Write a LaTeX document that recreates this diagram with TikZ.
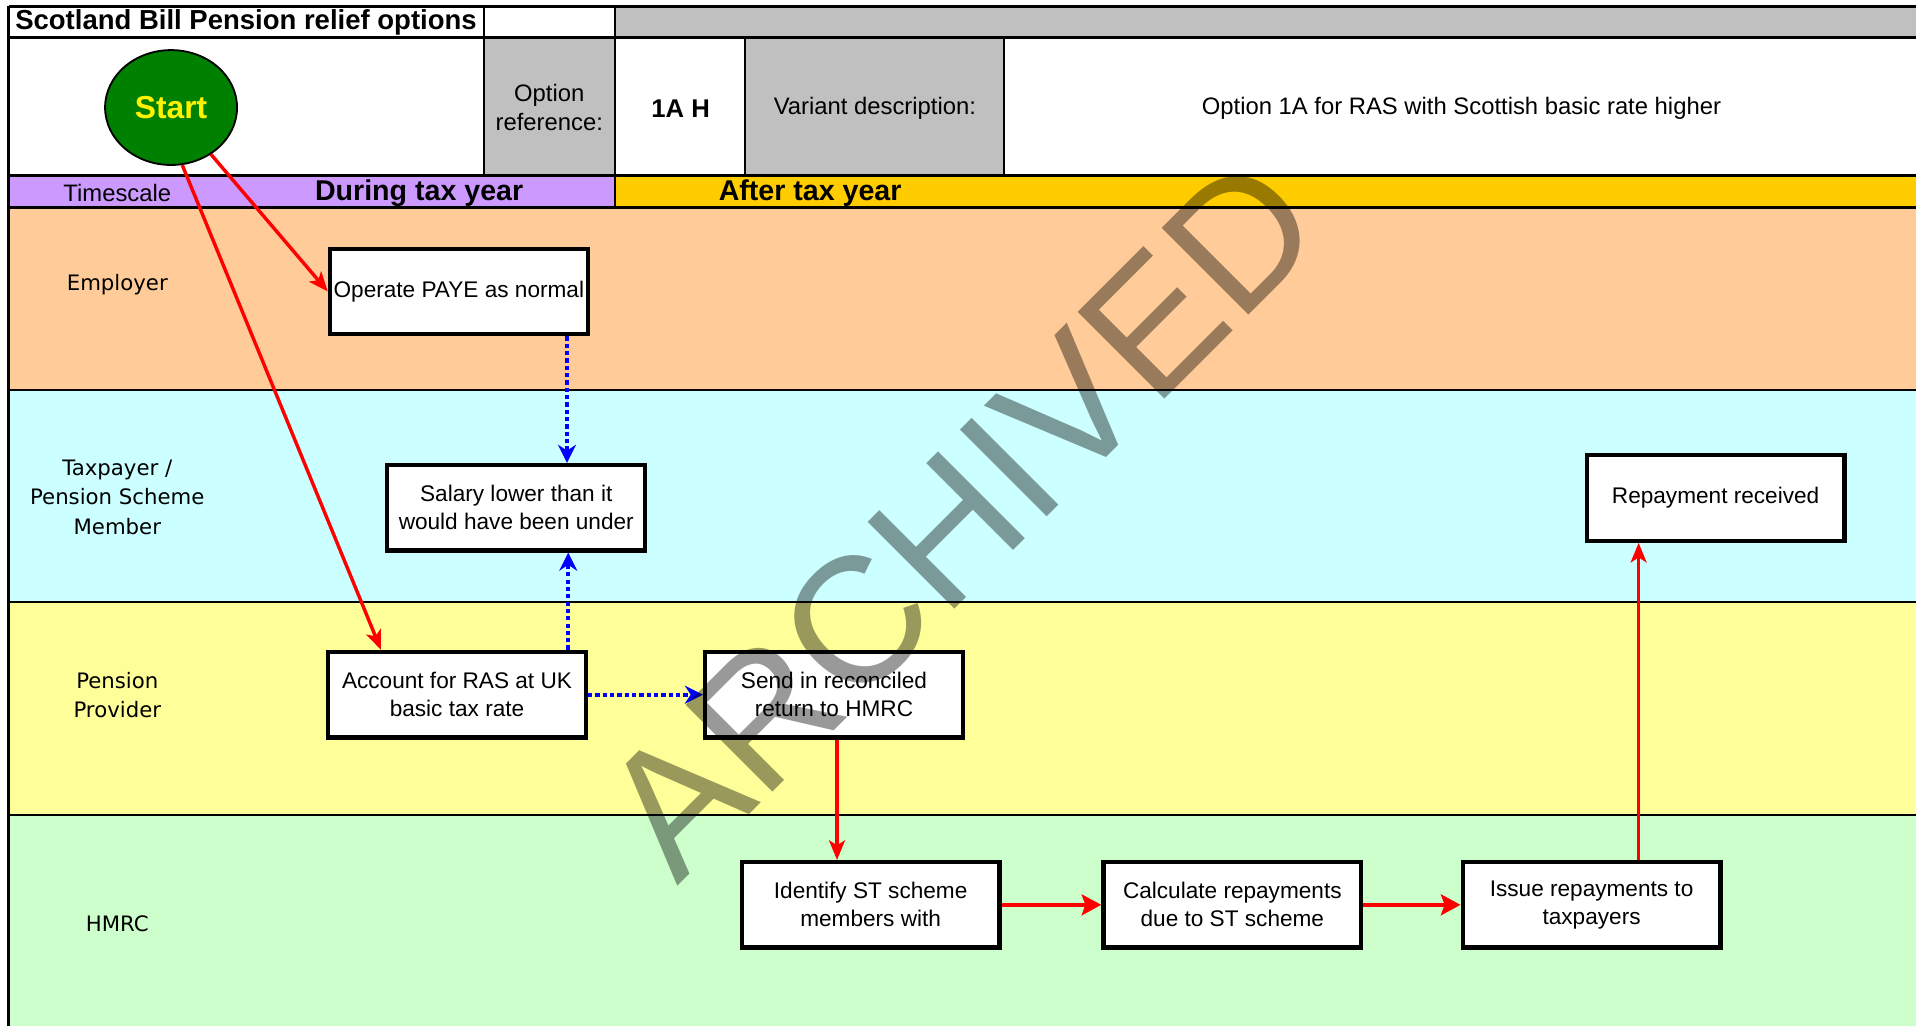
\documentclass[tikz,border=0pt]{standalone}
\usepackage{fontspec}
\setmainfont{Liberation Sans}
\newfontfamily\lanefont{DejaVu Sans}
\usepackage{tikz}
\usetikzlibrary{shapes.geometric}
\usetikzlibrary{arrows.meta}
\definecolor{empcol}{HTML}{FFCC99}
\definecolor{taxcol}{HTML}{CCFFFF}
\definecolor{provcol}{HTML}{FFFF99}
\definecolor{hmrccol}{HTML}{CCFFCC}
\definecolor{headgray}{HTML}{C0C0C0}
\definecolor{duringcol}{HTML}{CC99FF}
\definecolor{aftercol}{HTML}{FFCC00}
\definecolor{startgreen}{HTML}{008000}
\tikzset{stepbox/.style={draw, line width=3.5pt, fill=white, minimum width=211pt, minimum height=70pt, align=center, inner sep=2pt, font=\fontsize{18.5}{23}\selectfont}}
\tikzset{lanelabel/.style={align=center, font=\lanefont\fontsize{17.4}{24}\selectfont}}
\tikzset{headtext/.style={align=center, font=\fontsize{19.5}{24}\selectfont}}
\tikzset{redflow/.style={red, line width=2.8pt, -{Stealth[length=16pt, width=13pt, inset=4pt]}}}
\tikzset{redthick/.style={red, line width=3.6pt, -{Stealth[length=16pt, width=17pt, inset=3pt]}}}
\tikzset{blueflow/.style={blue, line width=3.2pt, dash pattern=on 3.5pt off 2.5pt, -{Stealth[length=15pt, width=15pt, inset=5pt, line width=0pt]}}}

\begin{document}
\begin{tikzpicture}[x=1pt, y=-1pt]
\useasboundingbox (0,0) rectangle (1568,840);

% Lanes
\foreach \ya/\yb/\col in {170/319/empcol, 319/493/taxcol, 493/667/provcol, 667/840/hmrccol}
	\fill[\col] (7,\ya) rectangle (1568,\yb);
\foreach \y in {319,493,667}
	\draw[line width=1.6pt] (7,\y) -- (1568,\y);

\node[lanelabel] (employer) at (96,233) {Employer};
\node[lanelabel] (taxpayer) at (96,407) {Taxpayer /\\Pension Scheme\\Member};
\node[lanelabel] (provider) at (96,569) {Pension\\Provider};
\node[lanelabel] (hmrc) at (96,756) {HMRC};

% Header
\fill[white] (7,5) rectangle (1568,144);
\fill[headgray] (503,5) rectangle (1568,31);
\fill[headgray] (396,31) rectangle (503,144);
\fill[headgray] (610,31) rectangle (822,144);
\fill[duringcol] (7,144) rectangle (503,170);
\fill[aftercol] (503,144) rectangle (1568,170);

\draw[line width=2.5pt] (7,5) -- (1568,5);
\draw[line width=2.5pt] (7,31) -- (1568,31);
\draw[line width=2.5pt] (7,144) -- (1568,144);
\draw[line width=2.5pt] (7,170) -- (1568,170);
\draw[line width=2.5pt] (7,5) -- (7,840);
\draw[line width=1.6pt] (396,5) -- (396,144);
\draw[line width=1.6pt] (503,5) -- (503,170);
\draw[line width=1.6pt] (610,31) -- (610,144);
\draw[line width=1.6pt] (822,31) -- (822,144);

\node[anchor=west, font=\bfseries\fontsize{22.5}{22.5}\selectfont] (title) at (9,18) {Scotland Bill Pension relief options};
\node[headtext] (optref) at (449.5,88) {Option\\reference:};
\node[headtext, font=\bfseries\fontsize{21}{24}\selectfont] (optcode) at (557,89) {1A H};
\node[headtext] (varlabel) at (716,89) {Variant description:};
\node[headtext] (vardesc) at (1196,89) {Option 1A for RAS with Scottish basic rate higher};
\node[headtext] (timescale) at (96,158) {Timescale};
\node[headtext, font=\bfseries\fontsize{23.4}{24}\selectfont] (during) at (343,158) {During tax year};
\node[headtext, font=\bfseries\fontsize{23.4}{24}\selectfont] (after) at (663,158) {After tax year};

\node[draw, ellipse, line width=1.5pt, fill=startgreen, minimum width=108pt, minimum height=94pt, text=yellow, font=\bfseries\fontsize{26}{26}\selectfont] (start) at (140,88) {Start};

% Steps
\node[stepbox] (paye) at (375.5,238.5) {Operate PAYE as normal};
\node[stepbox] (salary) at (422.5,415.5) {Salary lower than it\\would have been under};
\node[stepbox] (repaid) at (1404,407.5) {Repayment received};
\node[stepbox] (account) at (374,568.5) {Account for RAS at UK\\basic tax rate};
\node[stepbox] (send) at (682.5,568.5) {Send in reconciled\\return to HMRC};
\node[stepbox] (identify) at (712.5,740.5) {Identify ST scheme\\members with};
\node[stepbox] (calc) at (1008.5,740.5) {Calculate repayments\\due to ST scheme};
\node[stepbox] (issue) at (1302.5,740.5) {Issue repayments to\\taxpayers};

% Flows
\draw[redflow] (start) -- (paye.west);
\draw[redflow] (start.-79) -- ([xshift=45pt]account.north west);
\draw[blueflow] ([xshift=88.5pt]paye.south) -- ([xshift=88.5pt]paye.south |- salary.north);
\draw[blueflow] ([xshift=91pt]account.north) -- ([xshift=91pt]account.north |- salary.south);
\draw[blueflow] (account.east) -- (send.west);
\draw[redflow] ([xshift=2.5pt]send.south) -- ([xshift=2.5pt]send.south |- identify.north);
\draw[redthick] (identify.east) -- (calc.west);
\draw[redthick] (calc.east) -- (issue.west);
\draw[redflow] ([xshift=38.5pt]issue.north) -- ([xshift=38.5pt]issue.north |- repaid.south);

% Watermark
\node[rotate=45, text=black, text opacity=0.4, font=\fontsize{146}{146}\selectfont] (archived) at (786,423) {ARCHIVED};
\end{tikzpicture}
\end{document}
